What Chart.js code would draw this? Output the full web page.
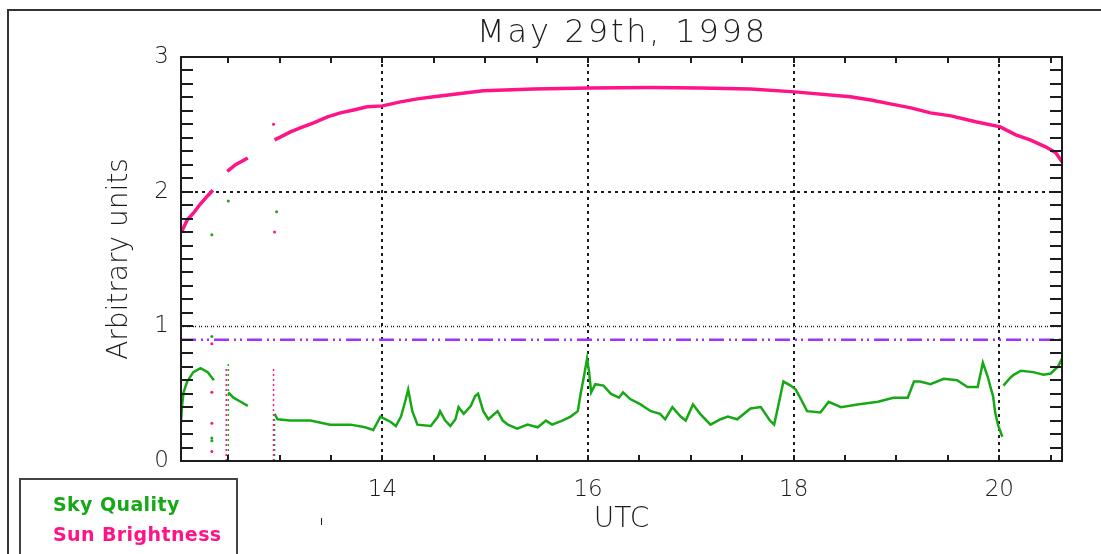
<!DOCTYPE html>
<html>
<head>
<meta charset="utf-8">
<script src="https://cdn.jsdelivr.net/npm/chart.js@4/dist/chart.umd.min.js"></script>
<style>
  body { margin: 0; background: #fff; }
  #wrap { width: 1101px; height: 554px; }
</style>
</head>
<body>
<div id="wrap"><canvas id="sky" width="1101" height="554"></canvas></div>
<script>
// time axis (UTC hours)
const xMin = 12.04;
const xMax = 20.61;
const xTickValues = [14, 16, 18, 20];
const yTickValues = [0, 1, 2, 3];
const chartTitle = 'May 29th, 1998';

// Sun brightness (null = gap in the record)
const sunT = [12.045, 12.10, 12.16, 12.23, 12.30, 12.35, 12.42,
  12.49, 12.57, 12.69, 12.80,
  12.95, 13.01, 13.105, 13.20, 13.33, 13.465, 13.59, 13.72, 13.85, 14.0, 14.175, 14.34, 14.50,
  14.66, 14.98, 15.47, 16.01, 16.61, 17.09, 17.58, 18.01, 18.55, 18.75, 18.94, 19.14, 19.33,
  19.53, 19.77, 20.01, 20.16, 20.30, 20.45, 20.55, 20.61];
const sunV = [1.70, 1.79, 1.84, 1.91, 1.97, 2.01, null,
  2.15, 2.20, 2.25, null,
  2.385, 2.407, 2.444, 2.474, 2.511, 2.556, 2.585, 2.607, 2.630, 2.637, 2.667, 2.689, 2.704,
  2.72, 2.749, 2.763, 2.770, 2.774, 2.77, 2.763, 2.741, 2.704, 2.681, 2.652, 2.622, 2.585,
  2.563, 2.519, 2.481, 2.422, 2.385, 2.333, 2.289, 2.222];

// Sky quality
const skyT = [12.04, 12.05, 12.065, 12.10, 12.16, 12.23, 12.30, 12.36, 12.42,
  12.50, 12.55, 12.62, 12.69, 12.80,
  12.95, 12.98, 13.10, 13.30, 13.49, 13.69, 13.83, 13.91, 13.98, 14.08, 14.13, 14.18, 14.22,
  14.25, 14.29, 14.34, 14.47, 14.54, 14.56, 14.61, 14.66, 14.71, 14.74, 14.79, 14.86, 14.90,
  14.93, 14.98, 15.03, 15.12, 15.17, 15.22, 15.31, 15.41, 15.51, 15.59, 15.65, 15.75, 15.83,
  15.90, 15.93, 15.96, 15.99, 16.01, 16.03, 16.07, 16.15, 16.22, 16.30, 16.34, 16.41, 16.51,
  16.61, 16.70, 16.75, 16.82, 16.90, 16.95, 17.02, 17.09, 17.19, 17.29, 17.36, 17.45, 17.58,
  17.68, 17.77, 17.81, 17.85, 17.90, 17.97, 18.02, 18.07, 18.13, 18.26, 18.34, 18.46, 18.62,
  18.82, 18.97, 19.11, 19.17, 19.23, 19.33, 19.46, 19.59, 19.69, 19.79, 19.84, 19.89, 19.91,
  19.94, 19.96, 19.99, 20.03, 20.035,
  20.04, 20.11, 20.14, 20.21, 20.33, 20.43, 20.50, 20.57, 20.61];
const skyV = [0.29, 0.41, 0.51, 0.59, 0.66, 0.69, 0.66, 0.60, null,
  0.51, 0.47, 0.44, 0.41, null,
  0.35, 0.31, 0.30, 0.30, 0.27, 0.27, 0.25, 0.23, 0.33, 0.29, 0.26, 0.33, 0.44,
  0.53, 0.37, 0.27, 0.26, 0.33, 0.37, 0.30, 0.26, 0.31, 0.40, 0.35, 0.41, 0.48,
  0.50, 0.37, 0.31, 0.37, 0.30, 0.27, 0.24, 0.27, 0.25, 0.30, 0.27, 0.30, 0.33,
  0.37, 0.51, 0.63, 0.76, 0.66, 0.51, 0.57, 0.56, 0.50, 0.47, 0.51, 0.46, 0.42,
  0.37, 0.35, 0.31, 0.40, 0.33, 0.30, 0.42, 0.35, 0.27, 0.31, 0.33, 0.31, 0.39,
  0.40, 0.30, 0.27, 0.41, 0.59, 0.56, 0.53, 0.46, 0.37, 0.36, 0.44, 0.40, 0.42,
  0.44, 0.47, 0.47, 0.59, 0.59, 0.57, 0.61, 0.60, 0.55, 0.55, 0.73, 0.62, 0.56,
  0.48, 0.36, 0.26, 0.18, null,
  0.56, 0.62, 0.64, 0.67, 0.66, 0.64, 0.65, 0.70, 0.76];

// isolated samples
const skyDotT = [12.34, 12.34, 12.34, 12.34, 12.50, 12.97];
const skyDotV = [0.925, 0.17, 0.15, 1.68, 1.93, 1.85];
const sunDotT = [12.34, 12.34, 12.34, 12.34, 12.95, 12.94];
const sunDotV = [0.87, 0.51, 0.28, 0.07, 1.70, 2.50];

// dropouts (signal falls to zero)
const sunDropT = [12.04, 12.48, 12.94];
const sunDropTop = [1.70, 0.70, 0.70];
const skyDropT = [12.50, 12.95];
const skyDropTop = [0.73, 0.33];

const skyThreshold = 0.9;

const GREEN = '#17a817';
const PINK = '#ff1488';
const PURPLE = '#9d35ff';
const INK = '#1c1c1c';

const pts = (ts, vs) => ts.map((t, i) => ({x: t, y: vs[i]}));

const drops = (ts, tops, color) => ts.map((t, i) => ({
  data: [{x: t, y: 0}, {x: t, y: tops[i]}],
  showLine: true, borderColor: color, borderWidth: 1.5, borderDash: [2, 3],
  pointRadius: 0
}));

const idlFrame = {
  id: 'idlFrame',
  beforeDatasetsDraw(chart) {
    const {ctx, chartArea: a, scales: {x, y}} = chart;
    ctx.save();
    ctx.strokeStyle = INK;
    ctx.lineWidth = 2;
    ctx.setLineDash([3, 4]);
    xTickValues.forEach(v => {
      const px = Math.round(x.getPixelForValue(v));
      ctx.beginPath(); ctx.moveTo(px, a.top); ctx.lineTo(px, a.bottom); ctx.stroke();
    });
    let py = Math.round(y.getPixelForValue(2));
    ctx.beginPath(); ctx.moveTo(a.left, py); ctx.lineTo(a.right, py); ctx.stroke();
    ctx.lineWidth = 1.5;
    ctx.setLineDash([1, 1, 1, 3]);
    py = Math.round(y.getPixelForValue(1)) + 0.5;
    ctx.beginPath(); ctx.moveTo(a.left, py); ctx.lineTo(a.right, py); ctx.stroke();
    ctx.restore();
  },
  afterDatasetsDraw(chart) {
    const {ctx, chartArea: a, scales: {x, y}} = chart;
    ctx.save();
    ctx.strokeStyle = INK;
    ctx.lineWidth = 2;
    ctx.setLineDash([]);
    ctx.strokeRect(a.left, a.top, a.right - a.left, a.bottom - a.top);
    ctx.beginPath();
    for (let k = 1; k < 30; k++) {
      const py = Math.round(y.getPixelForValue(k / 10));
      ctx.moveTo(a.left, py); ctx.lineTo(a.left + 12, py);
      ctx.moveTo(a.right, py); ctx.lineTo(a.right - 12, py);
    }
    for (let h = 12.5; h < xMax; h += 0.5) {
      const px = Math.round(x.getPixelForValue(h));
      ctx.moveTo(px, a.bottom); ctx.lineTo(px, a.bottom - 6);
      ctx.moveTo(px, a.top); ctx.lineTo(px, a.top + 6);
    }
    ctx.stroke();
    ctx.restore();
  },
  afterDraw(chart) {
    const {ctx, chartArea: a} = chart;
    ctx.save();
    // title, centred over the plot
    ctx.fillStyle = INK;
    ctx.font = '200 32px "DejaVu Sans", sans-serif';
    ctx.letterSpacing = '2.8px';
    ctx.textAlign = 'center';
    ctx.textBaseline = 'alphabetic';
    ctx.fillText(chartTitle, (a.left + a.right) / 2 + 1, 42);
    ctx.letterSpacing = '0px';
    ctx.textAlign = 'left';
    // outer frame
    ctx.strokeStyle = '#333';
    ctx.lineWidth = 2;
    ctx.beginPath();
    ctx.moveTo(8, 554); ctx.lineTo(8, 10); ctx.lineTo(1101, 10);
    ctx.stroke();
    // legend box
    ctx.strokeStyle = '#444';
    ctx.strokeRect(20, 479, 217, 90);
    ctx.font = 'bold 19px "DejaVu Sans"';
    ctx.letterSpacing = '0.4px';
    ctx.fillStyle = GREEN;
    ctx.fillText('Sky Quality', 53, 511);
    ctx.fillStyle = PINK;
    ctx.fillText('Sun Brightness', 53, 541);
    ctx.strokeStyle = INK;
    ctx.lineWidth = 1;
    ctx.beginPath(); ctx.moveTo(321.5, 518); ctx.lineTo(321.5, 525); ctx.stroke();
    ctx.restore();
  }
};

const numFont = {family: '"DejaVu Sans", sans-serif', size: 23, weight: 200};

new Chart(document.getElementById('sky'), {
  type: 'scatter',
  data: {
    datasets: [
      {
        label: 'threshold',
        data: [{x: xMin, y: skyThreshold}, {x: xMax, y: skyThreshold}],
        showLine: true, borderColor: PURPLE, borderWidth: 2.5,
        borderDash: [15, 5, 2, 4, 2, 5], pointRadius: 0
      },
      ...drops(sunDropT, sunDropTop, PINK),
      ...drops(skyDropT, skyDropTop, GREEN),
      {
        label: 'Sun Brightness', data: pts(sunT, sunV), showLine: true, spanGaps: false,
        borderColor: PINK, borderWidth: 3.5, pointRadius: 0
      },
      {
        label: 'Sky Quality', data: pts(skyT, skyV), showLine: true, spanGaps: false,
        borderColor: GREEN, borderWidth: 2.5, pointRadius: 0
      },
      {
        data: pts(sunDotT, sunDotV), pointRadius: 1.5, pointBackgroundColor: PINK,
        pointBorderWidth: 0
      },
      {
        data: pts(skyDotT, skyDotV), pointRadius: 1.5, pointBackgroundColor: GREEN,
        pointBorderWidth: 0
      }
    ]
  },
  options: {
    responsive: false,
    devicePixelRatio: 1,
    animation: false,
    layout: {padding: {left: 0, right: 39, top: 57, bottom: 0}},
    plugins: {
      legend: {display: false},
      tooltip: {enabled: false},
      title: {display: false}
    },
    scales: {
      x: {
        type: 'linear', min: xMin, max: xMax,
        afterFit: s => { s.height = 93; },
        afterBuildTicks: s => { s.ticks = xTickValues.map(v => ({value: v})); },
        grid: {display: false, drawTicks: false},
        border: {display: false},
        ticks: {color: INK, font: numFont, padding: 15, maxRotation: 0},
        title: {
          display: true, text: 'UTC', color: INK,
          font: {family: '"DejaVu Sans", sans-serif', size: 28, weight: 200},
          padding: {top: 0, bottom: 17}
        }
      },
      y: {
        min: 0, max: 3,
        afterFit: s => { s.width = 181; },
        afterBuildTicks: s => { s.ticks = yTickValues.map(v => ({value: v})); },
        grid: {display: false, drawTicks: false},
        border: {display: false},
        ticks: {color: INK, font: numFont, padding: 12},
        title: {
          display: true, text: 'Arbitrary units', color: INK,
          font: {family: '"DejaVu Sans", sans-serif', size: 28, weight: 200},
          padding: {top: 103, bottom: 0}
        }
      }
    }
  },
  plugins: [idlFrame]
});
</script>
</body>
</html>
